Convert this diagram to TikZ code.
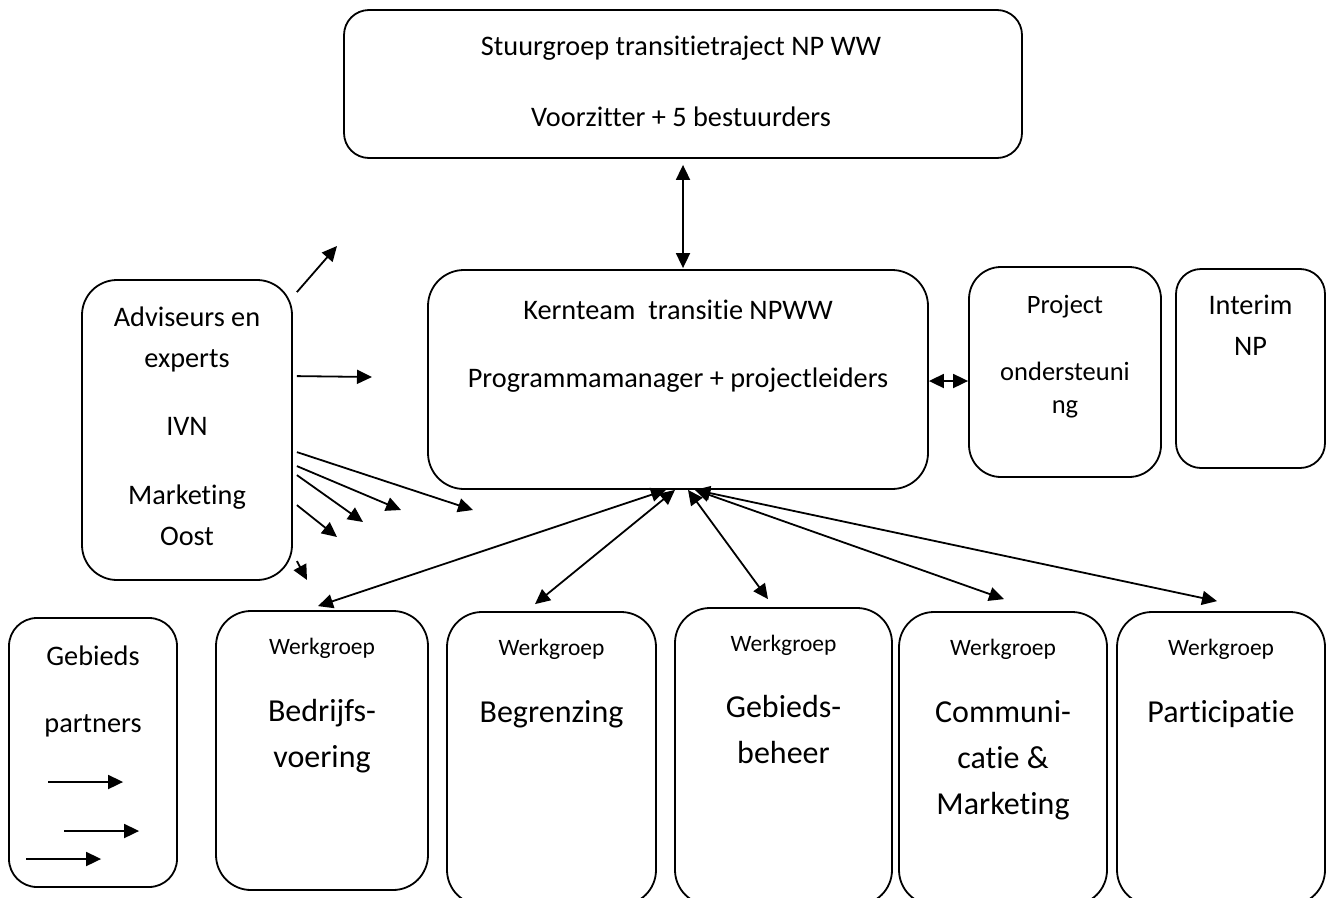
\documentclass[tikz,border=0pt]{standalone}
\usepackage{fontspec}
\setmainfont[RawFeature={-liga;-clig;-calt;-dlig}]{Carlito}
\usepackage{tikz}
\usetikzlibrary{arrows.meta, calc}

\newcommand{\fmain}{\fontsize{28.3}{41}\selectfont}
\newcommand{\fbig}{\fontsize{32}{46}\selectfont}
\newcommand{\fsmall}{\fontsize{23.5}{28}\selectfont}
\newcommand{\fproj}{\fontsize{26.5}{33}\selectfont}

\tikzset{
    box/.style={draw, line width=1.8pt, inner sep=0pt, rounded corners=#1},
    txt/.style={align=center, anchor=base, inner sep=0pt, font=\fmain},
    big/.style={txt, font=\fbig},
    small/.style={txt, font=\fsmall},
    arr/.style={line width=1.8pt, -{Triangle[length=15pt, width=14pt]}},
    darr/.style={line width=1.8pt, {Triangle[length=15pt, width=14pt]}-{Triangle[length=15pt, width=14pt]}}
}

\begin{document}
\begin{tikzpicture}[x=1pt, y=-1pt]
    \clip (0,0) rectangle (1327,897);
    \fill[white] (0,0) rectangle (1327,897);

    % boxes
    \node[box=25pt, minimum width=678pt, minimum height=148pt] (stuur) at (683,84) {};
    \node[box=36pt, minimum width=500pt, minimum height=219pt] (kern) at (678,379.5) {};
    \node[box=32pt, minimum width=192pt, minimum height=210pt] (proj) at (1065,372) {};
    \node[box=25pt, minimum width=149pt, minimum height=199pt] (interim) at (1250.5,368.5) {};
    \node[box=35pt, minimum width=210pt, minimum height=300pt] (adv) at (187,430) {};
    \node[box=28pt, minimum width=168pt, minimum height=269pt] (gebp) at (93,752.5) {};
    \node[box=35pt, minimum width=212pt, minimum height=279pt] (bedr) at (322,750.5) {};
    \node[box=35pt, minimum width=209pt, minimum height=293pt] (begr) at (551.5,758.5) {};
    \node[box=35pt, minimum width=217pt, minimum height=297pt] (gebh) at (783.5,756.5) {};
    \node[box=35pt, minimum width=208pt, minimum height=293pt] (comm) at (1003,758.5) {};
    \node[box=35pt, minimum width=208pt, minimum height=293pt] (part) at (1221,758.5) {};

    % texts (base = last line)
    \node[txt] (stuurtxt) at (681,126) {Stuurgroep transitietraject NP WW\\[30pt]Voorzitter + 5 bestuurders};
    \node[txt] (kerntxt) at (678,387) {Kernteam\ \ transitie NPWW\\[27pt]Programmamanager + projectleiders};
    \node[txt, font=\fproj] (projtxt) at (1065,413) {Project\\[34pt]ondersteuni\\ng};
    \node[txt] (interimtxt) at (1250.5,355) {Interim\\NP};
    \node[txt] (advtxt) at (187,545) {Adviseurs en\\experts\\[27pt]IVN\\[28pt]Marketing\\Oost};
    \node[txt] (gebptxt) at (93,732) {Gebieds\\[26pt]partners};
    \foreach \wg/\dy/\naam in {bedr/157/{Bedrijfs-\\voering}, begr/111/Begrenzing, gebh/156/{Gebieds-\\beheer},
                               comm/203/{Communi-\\catie \&\\Marketing}, part/111/Participatie} {
        \node[small] (\wg-kop) at ([yshift=-44pt]\wg.north) {Werkgroep};
        \node[big] (\wg-naam) at ([yshift=-\dy pt]\wg.north) {\naam};
    }

    % connectors
    \draw[darr] ([yshift=-6pt]stuur.south) -- ([yshift=1pt]stuur.south |- kern.north);
    \draw[darr] ([yshift=-1.5pt]kern.east) -- ([yshift=-1.5pt]kern.east -| proj.west);
    \foreach \wg/\kx/\wx/\wy in {bedr/-12/-4/-4, begr/-3/-16.5/-7, gebh/10/-15.5/-8,
                                 comm/17/1/-12, part/17/-4/-10}
        \draw[darr] ([xshift=\kx pt]kern.south) -- ([shift={(\wx,\wy)}]\wg.north);

    % loose arrows
    \foreach \dy/\ex/\ey [count=\i] in {13/337/246, 97/372/377, 173/473/510, 187/401/510,
                                       196/363/522, 226/337/537, 282/307/580} {
        \coordinate (advto\i) at (\ex,\ey);
        \draw[arr] ([shift={(4,\dy)}]adv.north east) -- (advto\i);
    }
    \foreach \dx/\dy [count=\i] in {40/29.5, 56/78.5, 18/106.5} {
        \coordinate (gebpto\i) at ($(gebp.west)+(\dx+75,\dy)$);
        \draw[arr] ([shift={(\dx,\dy)}]gebp.west) -- (gebpto\i);
    }
\end{tikzpicture}
\end{document}
